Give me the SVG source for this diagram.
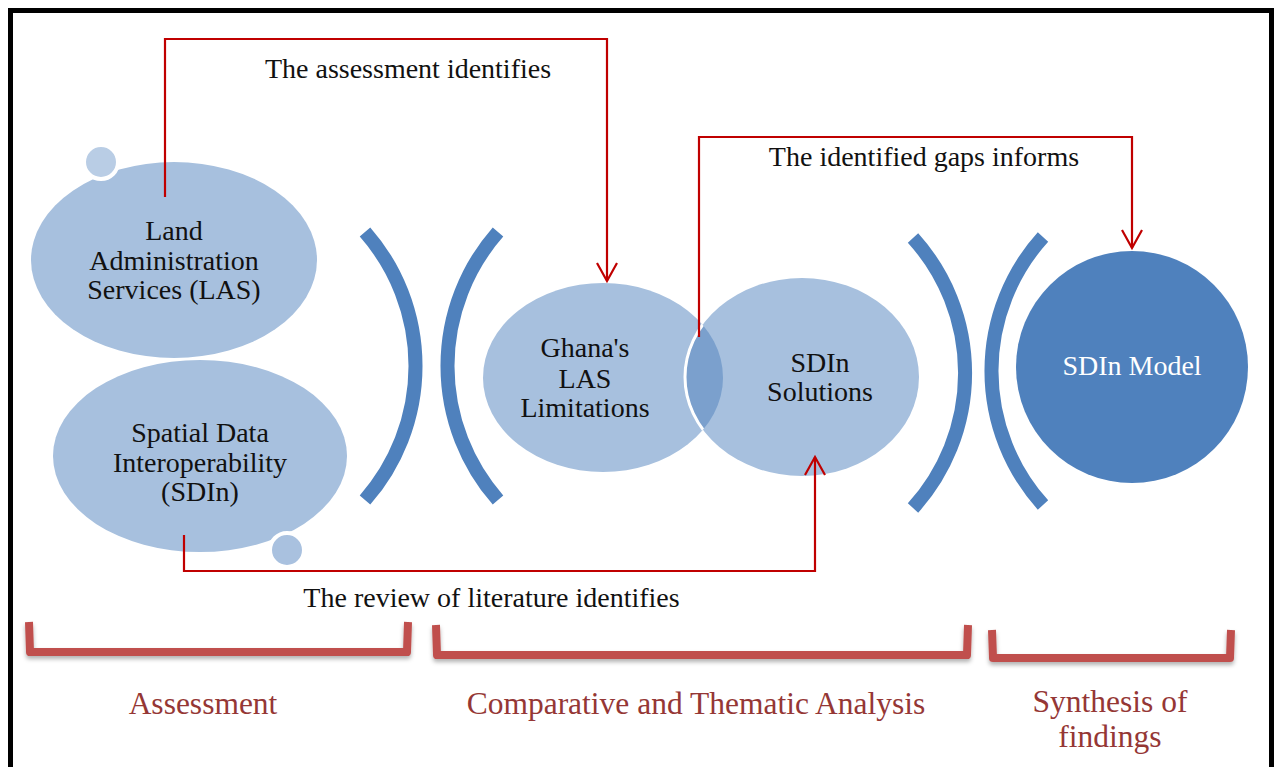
<svg xmlns="http://www.w3.org/2000/svg" width="1274" height="767" viewBox="0 0 1274 767">
  <style>
    .lbl { font-family: "Liberation Serif", "Times New Roman", serif; font-size: 28px; fill: #111; text-anchor: middle; }
    .stage { font-family: "Liberation Serif", "Times New Roman", serif; font-size: 31.5px; fill: #953735; text-anchor: middle; }
    .pale { fill: #A7C0DE; }
    .arc { fill: none; stroke: #4F81BD; stroke-width: 14; stroke-linecap: butt; }
    .brace { fill: none; stroke: #C0504D; stroke-width: 8; stroke-linejoin: round; stroke-linecap: butt; filter: url(#shadow); }
    .link { fill: none; stroke: #C00000; stroke-width: 2.2; marker-end: url(#open-arrow); }
  </style>
  <defs>
    <marker id="open-arrow" markerUnits="userSpaceOnUse" orient="auto" refX="0" refY="0" markerWidth="30" markerHeight="30" overflow="visible">
      <path d="M-18,-10 L0,0 L-18,10" fill="none" stroke="#C00000" stroke-width="2.2"/>
    </marker>
    <filter id="shadow" x="-5%" y="-40%" width="110%" height="200%">
      <feDropShadow dx="0" dy="3" stdDeviation="2" flood-color="#000" flood-opacity="0.3"/>
    </filter>
    <clipPath id="ghana-clip">
      <ellipse cx="603" cy="377.5" rx="120" ry="94.5"/>
    </clipPath>
  </defs>

  <rect width="1274" height="767" fill="#fff"/>
  <!-- outer frame -->
  <rect x="10.5" y="10.5" width="1261" height="800" fill="none" stroke="#000" stroke-width="5"/>

  <!-- input nodes -->
  <g id="node-las">
    <ellipse class="pale" cx="174" cy="260" rx="143" ry="98"/>
    <circle cx="101" cy="162" r="17" fill="#B9CDE5" stroke="#fff" stroke-width="4"/>
    <text class="lbl" x="174" y="240">Land</text>
    <text class="lbl" x="174" y="269.5">Administration</text>
    <text class="lbl" x="174" y="299">Services (LAS)</text>
  </g>
  <g id="node-sdin">
    <ellipse class="pale" cx="200" cy="456" rx="147" ry="96"/>
    <circle cx="287" cy="550" r="17" fill="#A9C1DF" stroke="#fff" stroke-width="4"/>
    <text class="lbl" x="200" y="442">Spatial Data</text>
    <text class="lbl" x="200" y="471.5">Interoperability</text>
    <text class="lbl" x="200" y="501">(SDIn)</text>
  </g>

  <!-- stage separators -->
  <g id="separators">
    <path class="arc" d="M365,232 A203,203 0 0 1 365,500"/>
    <path class="arc" d="M498,232 A203,203 0 0 0 498,500"/>
    <path class="arc" d="M913,238 A201,201 0 0 1 913,508"/>
    <path class="arc" d="M1043,237 A200,200 0 0 0 1043,505"/>
  </g>

  <!-- overlapping analysis nodes -->
  <g id="node-ghana">
    <ellipse class="pale" cx="603" cy="377.5" rx="120" ry="94.5"/>
  </g>
  <g id="node-solutions">
    <ellipse class="pale" cx="802" cy="377" rx="117" ry="99"/>
    <ellipse cx="802" cy="377" rx="117" ry="99" fill="#7BA0CD" clip-path="url(#ghana-clip)"/>
    <ellipse cx="802" cy="377" rx="117" ry="99" fill="none" stroke="#fff" stroke-width="3" clip-path="url(#ghana-clip)"/>
    <text class="lbl" x="820" y="372">SDIn</text>
    <text class="lbl" x="820" y="401">Solutions</text>
  </g>
  <g id="node-ghana-label">
    <text class="lbl" x="585" y="357">Ghana's</text>
    <text class="lbl" x="585" y="387.5">LAS</text>
    <text class="lbl" x="585" y="417">Limitations</text>
  </g>

  <g id="node-model">
    <circle cx="1132" cy="367" r="116" fill="#4F81BD"/>
    <text class="lbl" x="1132" y="375" style="fill:#fff">SDIn Model</text>
  </g>

  <!-- connectors -->
  <g id="connectors">
    <path class="link" d="M165,197 V39 H607 V281"/>
    <path class="link" d="M699,337 V137 H1132 V248"/>
    <path class="link" d="M184,535 V571 H815 V457"/>
    <text class="lbl" x="408" y="78">The assessment identifies</text>
    <text class="lbl" x="924" y="166">The identified gaps informs</text>
    <text class="lbl" x="491.5" y="607">The review of literature identifies</text>
  </g>

  <!-- stage brackets -->
  <g id="stage-assessment">
    <path class="brace" d="M29,622 L30,652 L407,652 L408,622"/>
    <text class="stage" x="203" y="714">Assessment</text>
  </g>
  <g id="stage-analysis">
    <path class="brace" d="M436,625 L437,655 L967,655 L968,625"/>
    <text class="stage" x="696" y="714">Comparative and Thematic Analysis</text>
  </g>
  <g id="stage-synthesis">
    <path class="brace" d="M992,630 L993,658 L1230,658 L1231,630"/>
    <text class="stage" x="1110" y="712">Synthesis of</text>
    <text class="stage" x="1110" y="747">findings</text>
  </g>
</svg>
